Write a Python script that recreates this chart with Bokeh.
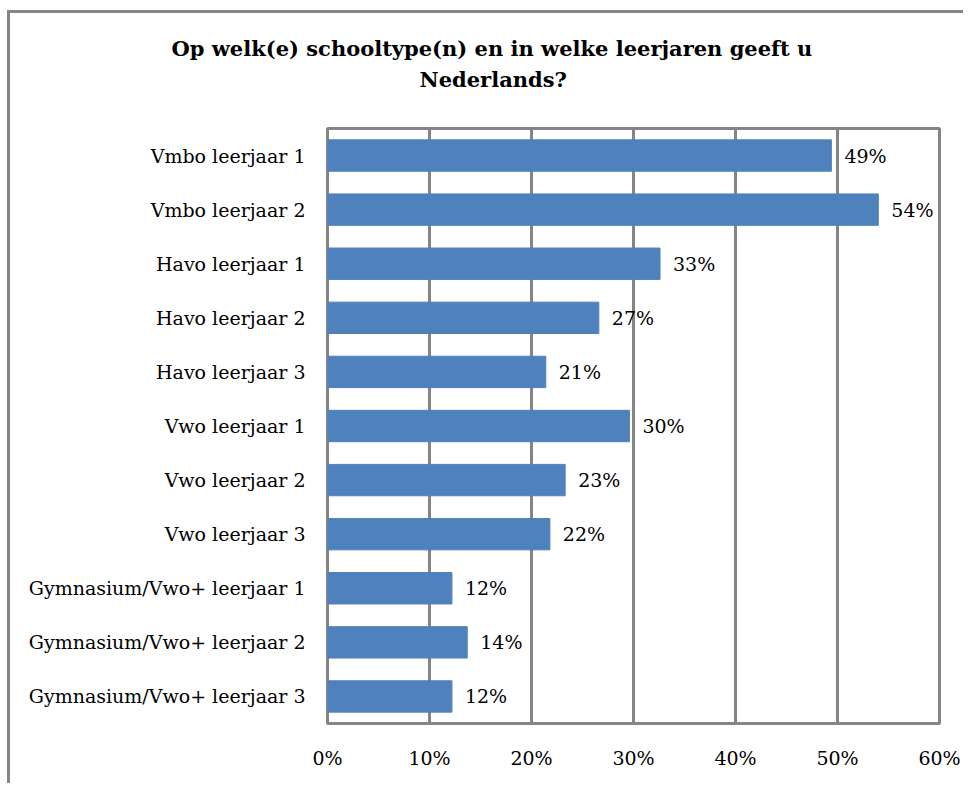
from bokeh.plotting import figure
from bokeh.models import FixedTicker, ColumnDataSource, Title
from bokeh.core.properties import value
from bokeh.embed import file_html
from bokeh.resources import INLINE

categories = ["Vmbo leerjaar 1", "Vmbo leerjaar 2", "Havo leerjaar 1", "Havo leerjaar 2",
              "Havo leerjaar 3", "Vwo leerjaar 1", "Vwo leerjaar 2", "Vwo leerjaar 3",
              "Gymnasium/Vwo+ leerjaar 1", "Gymnasium/Vwo+ leerjaar 2", "Gymnasium/Vwo+ leerjaar 3"]
values = [49.4, 54.0, 32.6, 26.6, 21.4, 29.6, 23.3, 21.8, 12.2, 13.7, 12.2]
x_ticks = [0, 10, 20, 30, 40, 50, 60]
title_lines = ["Op welk(e) schooltype(n) en in welke leerjaren geeft u", "Nederlands?"]

FONT = "DejaVu Serif"
GRAY = "#858585"
BLUE = "#4F81BD"
W, H = 956, 773

n = len(categories)
ypos = [n - 0.5 - i for i in range(n)]
labels = [f"{round(v)}%" for v in values]
src = ColumnDataSource(dict(y=ypos, v=values, lab=labels))

p = figure(width=W, height=H, output_backend="svg", toolbar_location=None,
           x_range=(0, 60), y_range=(0, n),
           min_border_left=317, min_border_top=115, min_border_right=W - 317 - 612,
           min_border_bottom=H - 115 - 595)
p.styles = {"margin-left": "7px", "margin-top": "10px",
            "border-left": f"3px solid {GRAY}", "border-top": f"3px solid {GRAY}"}

p.hbar(y="y", right="v", left=0, height=0.58, color=BLUE, source=src)
p.text(x="v", y="y", text="lab", source=src, x_offset=13, text_baseline="middle",
       text_font=value(FONT), text_font_size="19px", text_color="#000000")

p.outline_line_color = GRAY
p.outline_line_width = 3
p.xgrid.ticker = FixedTicker(ticks=x_ticks)
p.xgrid.grid_line_color = GRAY
p.xgrid.grid_line_width = 3
p.ygrid.grid_line_color = None

p.xaxis.ticker = FixedTicker(ticks=x_ticks)
p.xaxis.major_label_overrides = {t: f"{t}%" for t in x_ticks}
p.yaxis.ticker = FixedTicker(ticks=ypos)
p.yaxis.major_label_overrides = {y: c for y, c in zip(ypos, categories)}
for ax in (p.xaxis[0], p.yaxis[0]):
    ax.axis_line_color = None
    ax.major_tick_line_color = None
    ax.minor_tick_line_color = None
    ax.major_label_text_font = FONT
    ax.major_label_text_font_size = "19px"
    ax.major_label_text_color = "#000000"
p.xaxis.major_label_standoff = 17
p.yaxis.major_label_standoff = 16

# blank spacer title right above the frame, then the two title lines
spacer = Title(text="\u00a0", align="left", standoff=8, text_font=FONT,
               text_font_size="21px", text_color="#FFFFFF")
t2 = Title(text=title_lines[1], align="left", offset=92, standoff=4,
           text_font=FONT, text_font_size="21px", text_font_style="bold", text_color="#000000")
t1 = Title(text=title_lines[0], align="left", offset=-156, standoff=4,
           text_font=FONT, text_font_size="21px", text_font_style="bold", text_color="#000000")
p.add_layout(spacer, "above")
p.add_layout(t2, "above")
p.add_layout(t1, "above")

open("out.html", "w").write(file_html(p, INLINE))
